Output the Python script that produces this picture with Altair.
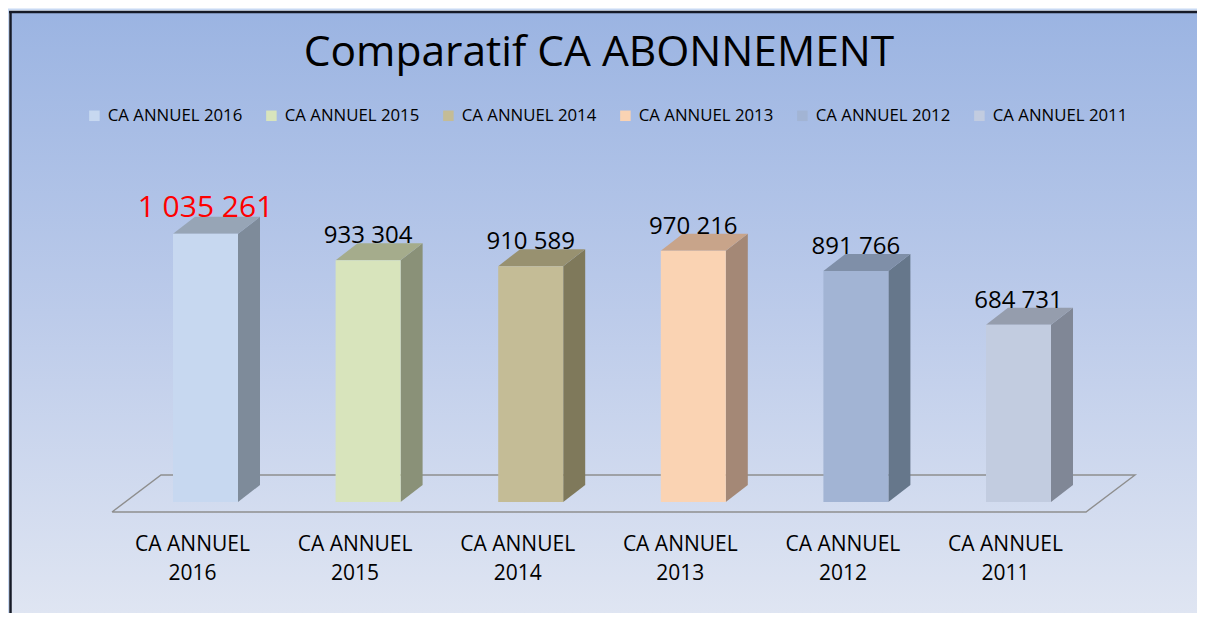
import altair as alt
import pandas as pd

# ---------------- data ----------------
categories = ["CA ANNUEL 2016", "CA ANNUEL 2015", "CA ANNUEL 2014",
              "CA ANNUEL 2013", "CA ANNUEL 2012", "CA ANNUEL 2011"]
values = [1035261, 933304, 910589, 970216, 891766, 684731]
front_colors = ["#C7D8F0", "#D8E4BC", "#C4BC96", "#FAD3B3", "#A2B4D4", "#C2CCE0"]
side_colors = ["#7E8B9A", "#8A9178", "#7F795B", "#A48876", "#66778B", "#808796"]
top_colors = ["#97A5B6", "#A5AC8C", "#989170", "#C8A48A", "#7F8FA8", "#959DAD"]
title_text = "Comparatif CA ABONNEMENT"
highlight_category = "CA ANNUEL 2016"

# ---------------- layout (pixels) ----------------
W, H = 1189, 605
PITCH = 162.6          # px between bar centres
FIRST_CX = 197.5       # px, centre of first bar front face
BAR_W = 65             # px, front face width
DEPTH_X, DEPTH_Y = 22, 17
ZERO_Y = 494           # px from top where value 0 sits
PX_PER_UNIT = 2.59e-4  # px per value unit
FONT = "Open Sans"

X_LO = -FIRST_CX / PITCH
X_HI = X_LO + W / PITCH
Y_HI = ZERO_Y / PX_PER_UNIT
Y_LO = -(H - ZERO_Y) / PX_PER_UNIT
hw = BAR_W / 2 / PITCH
dx = DEPTH_X / PITCH
dy = DEPTH_Y / PX_PER_UNIT

xs = alt.Scale(domain=[X_LO, X_HI], nice=False, zero=False)
ys = alt.Scale(domain=[Y_LO, Y_HI], nice=False, zero=False)

# ---------------- tables ----------------
front = pd.DataFrame({
    "cat": categories,
    "value": values,
    "xc": list(range(len(categories))),
})
front["x0"] = front["xc"] - hw
front["x1"] = front["xc"] + hw
front["zero"] = 0
front["label"] = [f"{v:,}".replace(",", " ") for v in values]
front["line1"] = [c.rsplit(" ", 1)[0] for c in categories]
front["line2"] = [c.rsplit(" ", 1)[1] for c in categories]
front["hl"] = [c == highlight_category for c in categories]

side_rows, top_rows = [], []
for i, (c, v) in enumerate(zip(categories, values)):
    L, R = i - hw, i + hw
    side_rows += [
        {"cat": c, "x": R, "y": v, "y2": 0, "col": side_colors[i]},
        {"cat": c, "x": R + dx, "y": v + dy, "y2": dy, "col": side_colors[i]},
    ]
    top_rows += [
        {"cat": c, "x": L, "y": v, "y2": v, "col": top_colors[i]},
        {"cat": c, "x": L + dx, "y": v + dy, "y2": v, "col": top_colors[i]},
        {"cat": c, "x": R, "y": v + dy, "y2": v, "col": top_colors[i]},
        {"cat": c, "x": R + dx, "y": v + dy, "y2": v + dy, "col": top_colors[i]},
    ]
side = pd.DataFrame(side_rows)
top = pd.DataFrame(top_rows)

# floor outline (pixel offsets relative to the outer bars)
n = len(categories)
f_front_y = -10 / PX_PER_UNIT
f_back_y = 27 / PX_PER_UNIT
fl_x = 0 - hw - 61 / PITCH
bl_x = 0 - hw - 12 / PITCH
fr_x = (n - 1) + hw + 35 / PITCH
br_x = (n - 1) + hw + 84 / PITCH
floor = pd.DataFrame({
    "k": [0, 1, 2, 3, 4],
    "x": [fl_x, fr_x, br_x, bl_x, fl_x],
    "y": [f_front_y, f_front_y, f_back_y, f_back_y, f_front_y],
})

one = alt.Data(values=[{"t": title_text}])

# ---------------- layers ----------------
bg = alt.Chart(one).mark_rect(
    color=alt.LinearGradient(
        gradient="linear", x1=0, y1=0, x2=0, y2=1,
        stops=[alt.GradientStop(color="#9BB4E2", offset=0),
               alt.GradientStop(color="#BCCBEA", offset=0.5),
               alt.GradientStop(color="#DFE5F2", offset=1)],
    )
).encode(x=alt.value(2), x2=alt.value(W), y=alt.value(4), y2=alt.value(H))

glow_top = alt.Chart(one).mark_rule(color="#C8D9F3", strokeWidth=2).encode(
    x=alt.value(0), x2=alt.value(W), y=alt.value(1.5))
glow_left = alt.Chart(one).mark_rule(color="#C8D9F3", strokeWidth=2).encode(
    x=alt.value(0), y=alt.value(2), y2=alt.value(H))
border_top = alt.Chart(one).mark_rule(color="#161A26", strokeWidth=2.5).encode(
    x=alt.value(1), x2=alt.value(W), y=alt.value(4))
border_left = alt.Chart(one).mark_rule(color="#161A26", strokeWidth=2.5).encode(
    x=alt.value(2.5), y=alt.value(3), y2=alt.value(H))

title = alt.Chart(one).mark_text(
    font=FONT, fontSize=42.5, color="#000000", align="center", baseline="alphabetic"
).encode(x=alt.value(591), y=alt.value(58), text="t:N")

floor_layer = alt.Chart(floor).mark_line(color="#8E8E8E", strokeWidth=1.4).encode(
    x=alt.X("x:Q", scale=xs, axis=None),
    y=alt.Y("y:Q", scale=ys, axis=None),
    order="k:Q",
)

side_layer = alt.Chart(side).mark_area(opacity=1).encode(
    x=alt.X("x:Q", scale=xs, axis=None),
    y=alt.Y("y:Q", scale=ys, axis=None, stack=None),
    y2="y2:Q",
    fill=alt.Fill("col:N", scale=None),
    detail="cat:N",
)

top_layer = alt.Chart(top).mark_area(opacity=1).encode(
    x=alt.X("x:Q", scale=xs, axis=None),
    y=alt.Y("y:Q", scale=ys, axis=None, stack=None),
    y2="y2:Q",
    fill=alt.Fill("col:N", scale=None),
    detail="cat:N",
)

front_layer = alt.Chart(front).mark_rect().encode(
    x=alt.X("x0:Q", scale=xs, axis=None),
    x2="x1:Q",
    y=alt.Y("zero:Q", scale=ys, axis=None),
    y2="value:Q",
    color=alt.Color(
        "cat:N",
        scale=alt.Scale(domain=categories, range=front_colors),
        legend=alt.Legend(
            orient="none", legendX=78, legendY=99, direction="horizontal",
            title=None, symbolType="square", symbolSize=110, symbolStrokeWidth=0,
            symbolOpacity=1, labelFont=FONT, labelFontSize=16.8,
            labelColor="#000000", columnPadding=20, labelOffset=5,
        ),
    ),
)

value_labels = alt.Chart(front).mark_text(
    font=FONT, align="center", baseline="alphabetic", dy=-DEPTH_Y
).encode(
    x=alt.X("xc:Q", scale=xs, axis=None),
    y=alt.Y("value:Q", scale=ys, axis=None),
    text="label:N",
    color=alt.condition("datum.hl", alt.value("#FF0000"), alt.value("#000000")),
    size=alt.condition("datum.hl", alt.value(30), alt.value(24)),
)

cat_line1 = alt.Chart(front).mark_text(
    font=FONT, fontSize=21, color="#000000", align="center", baseline="alphabetic", dx=-13
).encode(x=alt.X("xc:Q", scale=xs, axis=None), y=alt.value(543), text="line1:N")

cat_line2 = alt.Chart(front).mark_text(
    font=FONT, fontSize=21, color="#000000", align="center", baseline="alphabetic", dx=-13
).encode(x=alt.X("xc:Q", scale=xs, axis=None), y=alt.value(572), text="line2:N")

chart = alt.layer(
    bg, glow_top, glow_left, border_top, border_left, title,
    floor_layer, side_layer, top_layer, front_layer,
    value_labels, cat_line1, cat_line2,
).properties(
    width=W, height=H, padding=0, autosize="none", background="#FFFFFF"
).configure_view(stroke=None)

chart.save("out.html", embed_options={"renderer": "svg", "actions": False})
